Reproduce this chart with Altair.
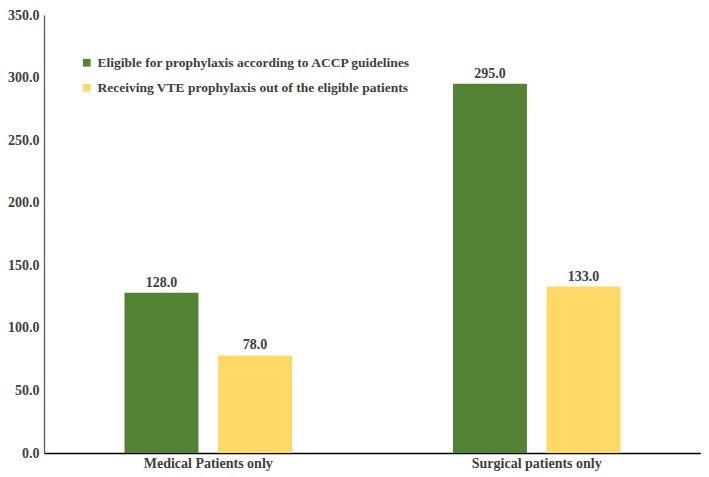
import altair as alt
import pandas as pd

categories = ["Medical Patients only", "Surgical patients only"]
series = ["Eligible for prophylaxis according to ACCP guidelines",
          "Receiving VTE prophylaxis out of the eligible patients"]
eligible = [128.0, 295.0]
receiving = [78.0, 133.0]
colors = ["#548235", "#FFD966"]

rows = []
for i, c in enumerate(categories):
    rows.append({"cat": c, "series": series[0], "value": eligible[i]})
    rows.append({"cat": c, "series": series[1], "value": receiving[i]})
df = pd.DataFrame(rows)

FONT = "Liberation Serif"
TXT = "#404040"

x = alt.X("cat:N", sort=categories, title=None,
          scale=alt.Scale(paddingInner=0, paddingOuter=0),
          axis=alt.Axis(labelAngle=0, labelFont=FONT, labelFontSize=14,
                        labelFontWeight="bold", labelColor=TXT, ticks=False,
                        domainColor="#000000", domainWidth=1.3, labelPadding=3))
xo = alt.XOffset("series:N", sort=series,
                 scale=alt.Scale(paddingInner=0.21, paddingOuter=0.86))

base = alt.Chart(df)

bars = base.mark_bar().encode(
    x=x, xOffset=xo,
    y=alt.Y("value:Q", title=None,
            scale=alt.Scale(domain=[0, 350]),
            axis=alt.Axis(values=list(range(0, 351, 50)), format=".1f",
                          grid=False, ticks=False, labelFont=FONT,
                          labelFontSize=14, labelFontWeight="bold",
                          labelColor=TXT, domainColor="#595959",
                          domainWidth=1.3, labelPadding=5)),
    color=alt.Color("series:N", sort=series,
                    scale=alt.Scale(domain=series, range=colors),
                    legend=alt.Legend(title=None, orient="none", legendX=36,
                                      legendY=41, symbolType="square",
                                      symbolSize=60, symbolStrokeWidth=0,
                                      labelFont=FONT, labelFontSize=13.5,
                                      labelFontWeight="bold", labelColor=TXT,
                                      labelLimit=600, rowPadding=10,
                                      symbolOffset=0)),
)

labels = base.mark_text(dy=-10, font=FONT, fontSize=14, fontWeight="bold",
                        color=TXT).encode(
    x=alt.X("cat:N", sort=categories), xOffset=xo,
    y="value:Q",
    text=alt.Text("value:Q", format=".1f"),
)

chart = (bars + labels).properties(
    width=657, height=438,
    autosize="none",
    padding={"left": 36, "top": 7, "right": 0, "bottom": 20},
).configure_view(stroke=None)

chart.save("out.html", embed_options={"renderer": "svg", "actions": False})
